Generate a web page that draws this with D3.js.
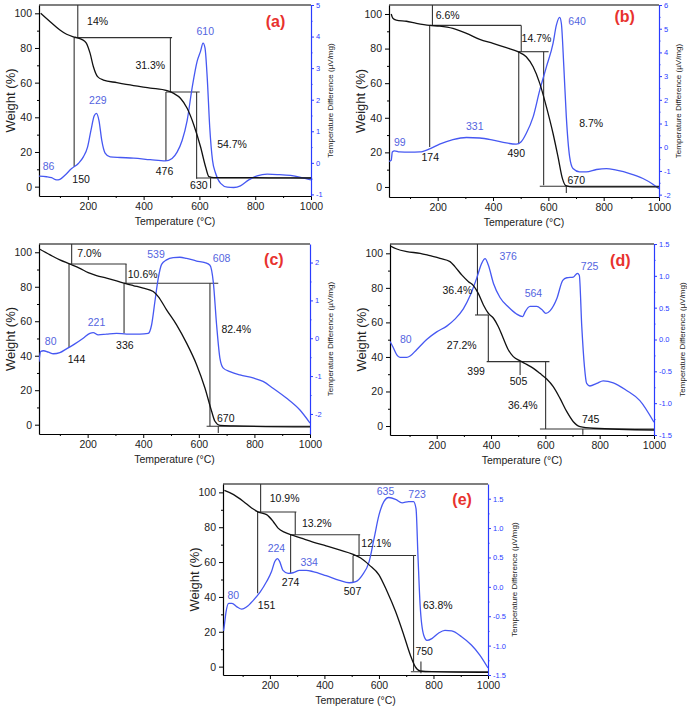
<!DOCTYPE html>
<html><head><meta charset="utf-8">
<script src="https://cdn.jsdelivr.net/npm/d3@7"></script>
<style>body{margin:0;background:#fff}svg{display:block}text{font-family:"Liberation Sans",Arial,sans-serif}</style>
</head><body><svg id="c" width="687" height="710"></svg>
<script>
// ---------- data ----------
const xTicks = [200,400,600,800,1000];
const xMinor = [100,300,500,700,900];
const wTicks = [0,20,40,60,80,100];
const wMinor = [10,30,50,70,90];
const rTicksA = [-1,0,1,2,3,4,5];
const rTicksB = [-2,-1,0,1,2,3,4,5,6];
const rTicksC = [-2,-1,0,1,2];
const rTicksD = [-1.5,-1,-0.5,0,0.5,1,1.5];
const rTicksE = [-1.5,-1,-0.5,0,0.5,1,1.5];

// TG curves [temperature, weight %]
const tgA = [[31,100],[65,95.2],[100,90.4],[124,87.9],[154,86.2],[178,85],[194,83],[208,77],[220,69.2],[235,63.5],[256,61.5],[304,60],[364,58.3],[424,56.9],[484,55.4],[508,53.8],[532,51],[556,45.2],[580,35.6],[604,23],[622,11.5],[634,5.8],[652,5.2],[724,5.2],[850,5.1],[1000,5.0]];
const tgB = [[32,100],[38,97.5],[50,96.5],[87,95.8],[123,94.6],[171,93.4],[207,93],[255,91.7],[304,88.8],[352,85.3],[400,83],[448,80.5],[490,78.2],[520,75.3],[545,69.5],[569,59.9],[593,46.3],[617,30.9],[635,17.4],[651,4.8],[663,0.8],[689,0],[850,0],[1000,0]];
const tgC = [[25,102],[65,98.5],[100,95.6],[136,93.2],[172,90.7],[202,88.2],[232,86.5],[268,85],[304,83.4],[334,82],[364,80.7],[400,79.2],[436,77.2],[454,74.3],[484,66.6],[520,57.9],[556,47.3],[592,34.8],[622,21.3],[646,7.8],[658,2],[676,-0.4],[724,-0.7],[1000,-1.3]];
const tgD = [[28,104.4],[53,102.5],[90,101],[139,100],[175,98.6],[212,97.1],[249,95.2],[267,92.3],[292,87.5],[317,83.6],[335,81.3],[353,76.8],[372,70.1],[390,65.3],[409,62.4],[427,57.5],[445,50.8],[464,44],[482,40.2],[507,37.7],[531,35.7],[556,33.4],[580,30.5],[605,27.2],[629,22.8],[654,16],[679,8.3],[703,2.5],[728,-0.4],[777,-1.3],[1000,-2.3]];
const tgE = [[33,101.1],[67,98.7],[103,94.8],[133,91],[158,88.7],[188,87.2],[212,83.3],[230,79.5],[255,77],[285,75.3],[321,73.4],[358,71.5],[406,69.3],[455,67],[503,64.6],[533,62.3],[564,58.4],[600,52.7],[630,43.1],[661,31.6],[691,18.2],[715,6.7],[733,0],[751,-2.5],[794,-2.9],[1000,-3.3]];

// DTA curves [temperature, µV/mg]
const dtaA = [[25,-0.42],[52,-0.44],[70,-0.47],[88,-0.54],[100,-0.52],[118,-0.39],[142,-0.18],[166,-0.02],[184,0.19],[199,0.5],[211,1.02],[223,1.49],[231,1.57],[240,1.34],[250,0.71],[262,0.31],[280,0.19],[316,0.17],[364,0.15],[424,0.1],[478,0.06],[502,0.14],[520,0.34],[538,0.71],[556,1.34],[574,2.38],[592,3.22],[604,3.53],[613,3.79],[620,3.64],[628,2.7],[637,1.13],[647,0.08],[658,-0.33],[676,-0.65],[700,-0.77],[723,-0.78],[747,-0.73],[777,-0.54],[807,-0.41],[843,-0.36],[879,-0.37],[927,-0.4],[963,-0.46],[1000,-0.54]];
const dtaB = [[24,-0.6],[32,-0.55],[36,-0.2],[44,-0.15],[62,-0.2],[99,-0.21],[135,-0.2],[171,-0.07],[207,0.13],[255,0.32],[304,0.41],[352,0.39],[400,0.3],[448,0.18],[484,0.13],[502,0.23],[520,0.58],[545,1.28],[569,2.41],[593,3.39],[617,4.38],[629,5.15],[641,5.48],[647,5.23],[656,3.39],[665,1.28],[677,-0.41],[689,-0.9],[713,-1.04],[737,-1.04],[774,-0.94],[810,-0.9],[846,-0.97],[894,-1.11],[942,-1.32],[978,-1.56],[1000,-1.75]];
const dtaC = [[25,-0.62],[31,-0.35],[41,-0.33],[59,-0.37],[77,-0.41],[100,-0.38],[124,-0.28],[154,-0.15],[184,0],[208,0.13],[220,0.15],[238,0.09],[268,0.11],[304,0.13],[340,0.11],[388,0.11],[418,0.13],[430,0.35],[442,0.97],[454,1.58],[466,1.95],[484,2.07],[508,2.13],[532,2.14],[556,2.11],[592,2.04],[622,2.0],[640,1.93],[652,1.49],[664,0.35],[676,-0.53],[688,-0.79],[712,-0.88],[748,-0.97],[795,-1.05],[831,-1.14],[867,-1.32],[915,-1.58],[963,-1.89],[1000,-2.24]];
const dtaD = [[28,-0.03],[38,-0.11],[53,-0.24],[65,-0.28],[90,-0.28],[102,-0.26],[126,-0.16],[163,0],[200,0.12],[237,0.21],[267,0.32],[298,0.48],[323,0.69],[347,0.96],[366,1.2],[378,1.27],[390,1.17],[409,0.88],[433,0.66],[464,0.51],[494,0.4],[517,0.36],[525,0.43],[544,0.52],[568,0.52],[587,0.47],[602,0.41],[617,0.45],[642,0.64],[664,0.93],[679,0.97],[703,0.98],[718,1.04],[725,1.01],[734,0.21],[744,-0.43],[752,-0.69],[764,-0.73],[789,-0.69],[813,-0.65],[850,-0.68],[899,-0.8],[948,-0.96],[1000,-1.3]];
const dtaE = [[30,-0.75],[33,-0.65],[39,-0.43],[49,-0.28],[61,-0.28],[79,-0.34],[97,-0.38],[115,-0.34],[139,-0.23],[164,-0.09],[188,0.09],[206,0.26],[218,0.43],[228,0.48],[236,0.43],[248,0.28],[267,0.23],[285,0.24],[309,0.28],[333,0.28],[358,0.26],[406,0.19],[455,0.11],[491,0.07],[515,0.09],[539,0.2],[564,0.43],[582,0.82],[600,1.22],[618,1.45],[636,1.52],[661,1.49],[685,1.43],[709,1.45],[727,1.45],[736,1.33],[743,0.54],[751,-0.31],[764,-0.82],[776,-0.91],[794,-0.88],[818,-0.79],[842,-0.74],[867,-0.75],[903,-0.85],[939,-0.99],[970,-1.16],[1000,-1.38]];

// step construction lines [T1, W1, T2, W2]
const stepsA = [[164,106,164,86.2],[151,86,502,86],[151,86,151,11.5],[496,86,496,54.4],[480,54.6,601,54.6],[480,54.6,480,14.8],[590,54.6,590,4.6],[589,5,1000,5],[640,5,640,-1]];
const stepsB = [[181,106,181,93.4],[171,93.4,502,93.4],[171,93.4,171,23.1],[502,93.4,502,78.2],[493,78.2,601,78.2],[493,78.2,493,25.1],[583,78.2,583,1],[569,0.4,1000,0.4],[665,0.4,665,-3.5]];
const stepsC = [[142.5,106,142.5,93.2],[133,93.2,340,93.2],[133,93.2,133,44.8],[338,93.2,338,82],[331,82,670,82],[331,82,331,53.1],[640,82,640,-0.9],[628,-0.9,1000,-0.9],[670,-0.9,670,-4.8]];
const stepsD = [[350,106,350,64.3],[341,64.3,390,64.3],[390,64.3,390,37.3],[384,37.3,615,37.3],[507,37.3,507,29.6],[601,37.3,601,-1.7],[580,-1.7,1000,-1.7],[738,-1.7,738,-5]];
const stepsE = [[166,106,166,88.7],[155,88.7,297,88.7],[155,88.7,155,42.1],[293,88.7,293,75.7],[276,75.7,531,75.7],[276,75.7,276,53.6],[527,75.7,527,63.8],[505,63.8,736,63.8],[505,63.8,505,48.5],[727,63.8,727,-2.5],[717,-2.9,1000,-2.9],[754,2.9,754,-3.8]];

// annotation texts [text, T, W, kind]
const labelsA = [['14%',235,95.2,'k'],['31.3%',424,69.8,'k'],['54.7%',717,24.7,'k'],['150',176,4.4,'k'],['476',475,8.7,'k'],['630',598,1,'k'],['86',59,11.5,'b'],['229',236,50,'b'],['610',621,89.8,'b'],['(a)',873,95.2,'r']];
const labelsB = [['6.6%',236,99.4,'k'],['14.7%',557,85.9,'k'],['8.7%',755,37,'k'],['174',173,17,'k'],['490',484,19.3,'k'],['670',701,3.9,'k'],['99',63,26,'b'],['331',334,35,'b'],['640',704,96,'b'],['(b)',876,98.5,'r']];
const labelsC = [['7.0%',206,99.4,'k'],['10.6%',398,87.3,'k'],['82.4%',735,55.4,'k'],['144',160,38.2,'k'],['336',334,45.8,'k'],['670',697,3.9,'k'],['80',67,48.3,'b'],['221',232,59.5,'b'],['539',446,99,'b'],['608',682,96.5,'b'],['(c)',870,95.6,'r']];
const labelsD = [['36.4%',276,78.4,'k'],['27.2%',292,46.5,'k'],['399',345,31.5,'k'],['505',501,25.7,'k'],['36.4%',517,12.2,'k'],['745',767,3.9,'k'],['80',86,50.2,'b'],['376',463,98.1,'b'],['564',556,76.8,'b'],['725',763,92.3,'b'],['(d)',876,96.1,'r']];
const labelsE = [['10.9%',254,96.7,'k'],['13.2%',372,82.4,'k'],['12.1%',590,70.7,'k'],['63.8%',816,35,'k'],['151',188,35.4,'k'],['274',276,48.5,'k'],['507',503,43.1,'k'],['750',766,9,'k'],['80',66,41.2,'b'],['224',224,68,'b'],['334',344,60,'b'],['635',624,100.6,'b'],['723',740,98.7,'b'],['(e)',905,95.8,'r']];

// ---------- layout ----------
const BLUE = '#4658f2', BLUE_AX = '#2a3cff', BLUE_TXT = '#5465e0', RED = '#e8322e';
const fmtInt = v => String(v);
const fmtDec = v => v.toFixed(1);
const panels = [
  {id:'a', l:39, r:311, t:5, b:196, xDom:[25,1000], wDom:[-5.4,104.8], dDom:[-1.05,5.0], rTicks:rTicksA, fmt:fmtInt, rOff:19, tg:tgA, dta:dtaA, steps:stepsA, labels:labelsA},
  {id:'b', l:389, r:659, t:5, b:197, xDom:[24,1000], wDom:[-5.8,105.2], dDom:[-2.1,6.0], rTicks:rTicksB, fmt:fmtInt, rOff:19, tg:tgB, dta:dtaB, steps:stepsB, labels:labelsB},
  {id:'c', l:39, r:310, t:244, b:434, xDom:[25,1000], wDom:[-5.4,104.8], dDom:[-2.53,2.49], rTicks:rTicksC, fmt:fmtInt, rOff:20, tg:tgC, dta:dtaC, steps:stepsC, labels:labelsC},
  {id:'d', l:390, r:654, t:244, b:435, xDom:[28,1000], wDom:[-5.2,105.4], dDom:[-1.5,1.5], rTicks:rTicksD, fmt:fmtDec, rOff:28, tg:tgD, dta:dtaD, steps:stepsD, labels:labelsD},
  {id:'e', l:223, r:488, t:484, b:675, xDom:[28,1000], wDom:[-4.8,104.8], dDom:[-1.5,1.75], rTicks:rTicksE, fmt:fmtDec, rOff:26, tg:tgE, dta:dtaE, steps:stepsE, labels:labelsE}
];

const svg = d3.select('#c');

function styleAxis(sel, color, fs) {
  sel.selectAll('path.domain').attr('stroke', color).attr('stroke-width', 1.2);
  sel.selectAll('.tick line').attr('stroke', color).attr('stroke-width', 1);
  sel.selectAll('.tick text').attr('fill', color === '#000' ? '#222' : color)
     .attr('font-size', fs).attr('font-family', '"Liberation Sans",Arial,sans-serif');
}

panels.forEach(p => {
  const g = svg.append('g');
  const x = d3.scaleLinear().domain(p.xDom).range([p.l, p.r]);
  const yL = d3.scaleLinear().domain(p.wDom).range([p.b, p.t]);
  const yR = d3.scaleLinear().domain(p.dDom).range([p.b, p.t]);

  const cid = 'clip' + p.id;
  g.append('clipPath').attr('id', cid).append('rect')
    .attr('x', p.l).attr('y', p.t).attr('width', p.r - p.l).attr('height', p.b - p.t);

  // top border
  g.append('line').attr('x1', p.l).attr('x2', p.r).attr('y1', p.t).attr('y2', p.t)
    .attr('stroke', '#000').attr('stroke-width', 1.2);

  // bottom axis
  const gx = g.append('g').attr('transform', `translate(0,${p.b})`)
    .call(d3.axisBottom(x).tickValues(xTicks).tickSize(4).tickSizeOuter(0).tickPadding(3).tickFormat(fmtInt));
  styleAxis(gx, '#000', 10.5);
  const gxm = g.append('g').attr('transform', `translate(0,${p.b})`)
    .call(d3.axisBottom(x).tickValues(xMinor).tickSize(2).tickFormat(''));
  gxm.select('.domain').remove(); styleAxis(gxm, '#000', 10);

  // left axis
  const gy = g.append('g').attr('transform', `translate(${p.l},0)`)
    .call(d3.axisLeft(yL).tickValues(wTicks).tickSize(4).tickSizeOuter(0).tickPadding(3).tickFormat(fmtInt));
  styleAxis(gy, '#000', 10.5);
  const gym = g.append('g').attr('transform', `translate(${p.l},0)`)
    .call(d3.axisLeft(yL).tickValues(wMinor).tickSize(2).tickFormat(''));
  gym.select('.domain').remove(); styleAxis(gym, '#000', 10);

  // right axis (blue)
  const gr = g.append('g').attr('transform', `translate(${p.r},0)`)
    .call(d3.axisRight(yR).tickValues(p.rTicks).tickSize(3).tickSizeOuter(0).tickPadding(2).tickFormat(p.fmt));
  styleAxis(gr, BLUE_AX, 7.5);
  const step = p.rTicks[1] - p.rTicks[0];
  const rMinor = p.rTicks.slice(0, -1).map(v => v + step / 2);
  const grm = g.append('g').attr('transform', `translate(${p.r},0)`)
    .call(d3.axisRight(yR).tickValues(rMinor).tickSize(1.5).tickFormat(''));
  grm.select('.domain').remove(); styleAxis(grm, BLUE_AX, 7);

  // axis titles
  g.append('text').attr('x', (p.l + p.r) / 2).attr('y', p.b + 29).attr('text-anchor', 'middle')
    .attr('font-size', 10.5).attr('fill', '#222').text('Temperature (°C)');
  g.append('text').attr('transform', `translate(${p.l - 29},${(p.t + p.b) / 2}) rotate(-90)`)
    .attr('text-anchor', 'middle').attr('dy', '0.35em').attr('font-size', 13).attr('fill', '#222').text('Weight (%)');
  g.append('text').attr('transform', `translate(${p.r + p.rOff},${(p.t + p.b) / 2}) rotate(-90)`)
    .attr('text-anchor', 'middle').attr('dy', '0.35em').attr('font-size', 8).attr('fill', '#222')
    .text('Temperature Difference (µV/mg)');

  const inner = g.append('g').attr('clip-path', `url(#${cid})`);

  // step lines
  inner.selectAll('line.step').data(p.steps).join('line').attr('class', 'step')
    .attr('x1', d => x(d[0])).attr('y1', d => yL(d[1]))
    .attr('x2', d => x(d[2])).attr('y2', d => yL(d[3]))
    .attr('stroke', '#333').attr('stroke-width', 1.1);

  // curves
  inner.append('path').datum(p.dta)
    .attr('d', d3.line().x(d => x(d[0])).y(d => yR(d[1])).curve(d3.curveMonotoneX))
    .attr('fill', 'none').attr('stroke', BLUE).attr('stroke-width', 1.3);
  inner.append('path').datum(p.tg)
    .attr('d', d3.line().x(d => x(d[0])).y(d => yL(d[1])).curve(d3.curveMonotoneX))
    .attr('fill', 'none').attr('stroke', '#111').attr('stroke-width', 1.3);

  // labels
  g.selectAll('text.lab').data(p.labels).join('text').attr('class', 'lab')
    .attr('x', d => x(d[1])).attr('y', d => yL(d[2]))
    .attr('text-anchor', 'middle').attr('dy', '0.35em')
    .attr('font-size', d => d[3] === 'r' ? 16 : 10.5)
    .attr('font-weight', d => d[3] === 'r' ? 'bold' : 'normal')
    .attr('fill', d => d[3] === 'r' ? RED : d[3] === 'b' ? BLUE_TXT : '#111')
    .text(d => d[0]);
});
</script></body></html>
